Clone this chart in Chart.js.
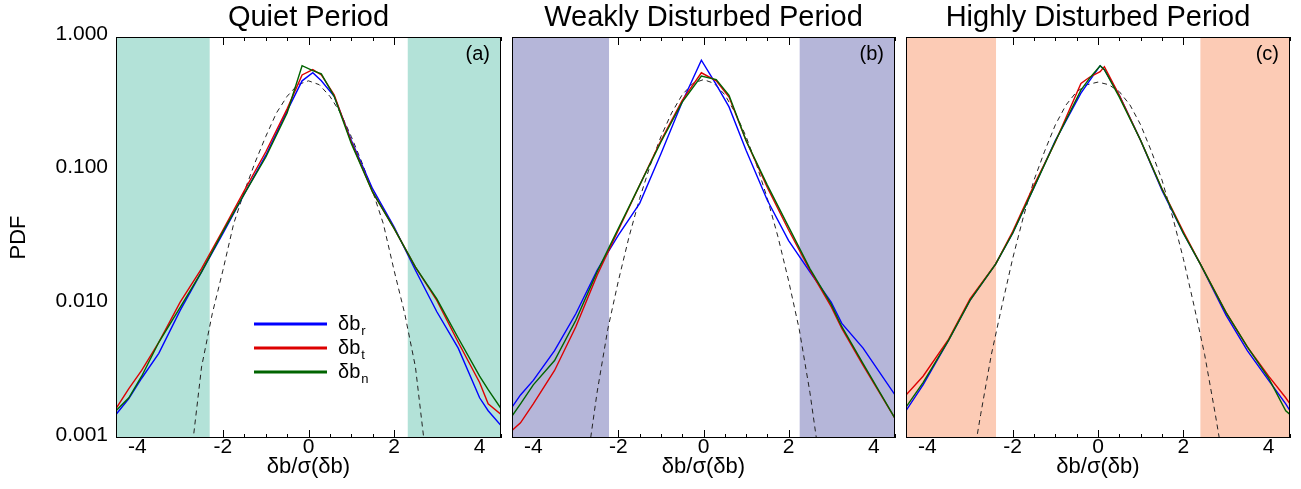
<!DOCTYPE html>
<html>
<head>
<meta charset="utf-8">
<script src="https://cdn.jsdelivr.net/npm/chart.js"></script>
<style>
  body { margin: 0; background: #fff; width: 1301px; height: 489px; overflow: hidden; position: relative; }
  canvas { position: absolute; top: 0; }
</style>
</head>
<body>
<canvas id="quiet" width="510" height="489" style="left:0px"></canvas>
<canvas id="weak" width="395" height="489" style="left:505px"></canvas>
<canvas id="high" width="403" height="489" style="left:898px"></canvas>
<script>
// Axis ticks
const xTickLabels = [-4, -2, 0, 2, 4];
const xTickMarks = [-4.5, -4, -3.5, -3, -2.5, -2, -1.5, -1, -0.5, 0, 0.5, 1, 1.5, 2, 2.5, 3, 3.5, 4, 4.5];
const yTickValues = [0.001, 0.01, 0.1, 1];

// Legend text
const seriesNames = ['δb', 'δb', 'δb'];
const seriesSubs = ['r', 't', 'n'];

// Quiet period (a)
const quietX = [-4.5, -4.2, -3.9, -3.5, -3, -2.5, -2, -1.5, -1, -0.5, -0.15, 0.1, 0.3, 0.6, 1, 1.5, 2, 2.5, 3, 3.5, 4, 4.2, 4.5];
const quietR = [0.0015, 0.00197, 0.0028, 0.0043, 0.009, 0.0175, 0.034, 0.067, 0.13, 0.28, 0.47, 0.54, 0.47, 0.36, 0.169, 0.073, 0.038, 0.018, 0.0088, 0.0047, 0.002, 0.0016, 0.00124];
const quietT = [0.00166, 0.00234, 0.0032, 0.0052, 0.0104, 0.0185, 0.036, 0.071, 0.138, 0.29, 0.52, 0.57, 0.52, 0.37, 0.164, 0.069, 0.037, 0.019, 0.0107, 0.0052, 0.0026, 0.0018, 0.0015];
const quietN = [0.0016, 0.002, 0.0029, 0.0052, 0.0095, 0.0175, 0.035, 0.067, 0.126, 0.27, 0.61, 0.56, 0.53, 0.36, 0.16, 0.069, 0.037, 0.019, 0.011, 0.0056, 0.0029, 0.0023, 0.00166];

// Weakly disturbed period (b)
const weakX = [-4.5, -4.3, -4, -3.5, -3, -2.5, -2, -1.5, -1, -0.5, -0.05, 0.3, 0.6, 1, 1.5, 2, 2.5, 3, 3.25, 3.75, 4.5];
const weakR = [0.0017, 0.0021, 0.0027, 0.0045, 0.0085, 0.018, 0.033, 0.057, 0.134, 0.326, 0.67, 0.44, 0.3, 0.142, 0.06, 0.03, 0.0175, 0.0104, 0.0072, 0.0047, 0.0021];
const weakT = [0.00114, 0.0013, 0.0018, 0.0032, 0.0068, 0.0165, 0.036, 0.078, 0.168, 0.336, 0.54, 0.47, 0.355, 0.168, 0.075, 0.036, 0.018, 0.0096, 0.0066, 0.0035, 0.0014];
const weakN = [0.00146, 0.0018, 0.0025, 0.0038, 0.0076, 0.0175, 0.037, 0.078, 0.164, 0.326, 0.51, 0.48, 0.366, 0.168, 0.078, 0.038, 0.0185, 0.01, 0.0068, 0.0036, 0.0014];

// Highly disturbed period (c)
const highX = [-4.5, -4.1, -3.5, -3, -2.4, -2, -1.5, -1, -0.4, -0.2, 0.05, 0.15, 0.5, 1, 1.5, 2, 2.4, 3, 3.5, 4, 4.4, 4.5];
const highR = [0.0016, 0.0025, 0.0054, 0.0107, 0.02, 0.034, 0.075, 0.168, 0.38, 0.47, 0.61, 0.57, 0.366, 0.168, 0.071, 0.034, 0.02, 0.0083, 0.0045, 0.0027, 0.0018, 0.0016];
const highT = [0.0021, 0.0029, 0.0055, 0.011, 0.02, 0.035, 0.078, 0.164, 0.45, 0.5, 0.55, 0.6, 0.366, 0.168, 0.073, 0.035, 0.02, 0.0087, 0.0048, 0.0029, 0.002, 0.0018];
const highN = [0.0017, 0.0026, 0.0054, 0.0107, 0.02, 0.034, 0.075, 0.166, 0.4, 0.49, 0.61, 0.57, 0.355, 0.168, 0.073, 0.034, 0.02, 0.0087, 0.0048, 0.0028, 0.0016, 0.0015];

// Gaussian reference curves (dashed)
const gaussX = [-3, -2.75, -2.5, -2.25, -2, -1.75, -1.5, -1.25, -1, -0.75, -0.5, -0.25, 0, 0.25, 0.5, 0.75, 1, 1.25, 1.5, 1.75, 2, 2.25, 2.5, 2.75, 3];
const quietGauss = [0.0002, 0.0007, 0.0034, 0.0085, 0.018, 0.04, 0.07, 0.115, 0.18, 0.27, 0.36, 0.44, 0.47, 0.44, 0.36, 0.27, 0.18, 0.115, 0.07, 0.04, 0.018, 0.0085, 0.0034, 0.0007, 0.0002];
const weakGauss = [0.0001, 0.0006, 0.0022, 0.0065, 0.015, 0.032, 0.062, 0.11, 0.18, 0.27, 0.37, 0.45, 0.48, 0.45, 0.37, 0.27, 0.18, 0.11, 0.062, 0.032, 0.015, 0.0065, 0.0022, 0.0006, 0.0001];
const highGauss = [0.0005, 0.0015, 0.0042, 0.0098, 0.022, 0.045, 0.085, 0.14, 0.22, 0.31, 0.39, 0.44, 0.46, 0.44, 0.39, 0.31, 0.22, 0.14, 0.085, 0.045, 0.022, 0.0098, 0.0042, 0.0015, 0.0005];

const seriesColors = ['#0000ff', '#dd0000', '#006400'];
const fontFamily = '"Liberation Sans", Arial, sans-serif';

function toPoints(xs, ys) {
  return xs.map((x, i) => ({ x: x, y: ys[i] }));
}

// Draws inward ticks, shaded tails, box, labels and legend
const panelDecor = {
  id: 'panelDecor',
  beforeDatasetsDraw(chart, args, opts) {
    const { ctx, chartArea: a, scales: { x } } = chart;
    ctx.save();
    ctx.strokeStyle = '#000';
    ctx.lineWidth = 1;
    xTickMarks.forEach(v => {
      const px = Math.round(x.getPixelForValue(v)) + 0.5;
      const len = v % 2 === 0 ? 8 : 4;
      ctx.beginPath();
      ctx.moveTo(px, a.bottom); ctx.lineTo(px, a.bottom - len);
      ctx.moveTo(px, a.top); ctx.lineTo(px, a.top + len);
      ctx.stroke();
    });
    ctx.fillStyle = opts.shade;
    const l = x.getPixelForValue(opts.edges[0]);
    const r = x.getPixelForValue(opts.edges[1]);
    ctx.fillRect(a.left, a.top, l - a.left, a.bottom - a.top);
    ctx.fillRect(r, a.top, a.right - r, a.bottom - a.top);
    ctx.restore();
  },
  afterDatasetsDraw(chart, args, opts) {
    const { ctx, chartArea: a } = chart;
    ctx.save();
    ctx.strokeStyle = '#000';
    ctx.lineWidth = 1;
    ctx.strokeRect(Math.round(a.left) + 0.5, Math.round(a.top) + 0.5, Math.round(a.right - a.left) - 1, Math.round(a.bottom - a.top) - 1);
    ctx.fillStyle = '#000';
    ctx.font = '20px ' + fontFamily;
    ctx.textAlign = 'right';
    ctx.textBaseline = 'middle';
    ctx.fillText(opts.tag, a.right - 11, a.top + 17);

    ctx.textAlign = 'center';
    ctx.font = '29px ' + fontFamily;
    ctx.fillText(opts.title, (a.left + a.right) / 2, 18);
    ctx.font = '22px ' + fontFamily;
    ctx.fillText('δb/σ(δb)', (a.left + a.right) / 2, 467);

    if (opts.yTitle) {
      ctx.save();
      ctx.translate(19, (a.top + a.bottom) / 2);
      ctx.rotate(-Math.PI / 2);
      ctx.font = '22px ' + fontFamily;
      ctx.fillText(opts.yTitle, 0, 0);
      ctx.restore();
    }

    if (opts.legend) {
      seriesNames.forEach((name, i) => {
        const y = 324 + i * 24;
        ctx.strokeStyle = seriesColors[i];
        ctx.lineWidth = 3;
        ctx.beginPath();
        ctx.moveTo(a.left + 138, y);
        ctx.lineTo(a.left + 211, y);
        ctx.stroke();
        ctx.textAlign = 'left';
        ctx.textBaseline = 'alphabetic';
        ctx.font = '20px ' + fontFamily;
        ctx.fillText(name, a.left + 222, y + 6);
        const w = ctx.measureText(name).width;
        ctx.font = '13px ' + fontFamily;
        ctx.fillText(seriesSubs[i], a.left + 223 + w, y + 11);
      });
    }
    ctx.restore();
  }
};

function makePanel(id, cfg) {
  const datasets = [
    { data: toPoints(cfg.xs, cfg.n), borderColor: seriesColors[2] },
    { data: toPoints(cfg.xs, cfg.t), borderColor: seriesColors[1] },
    { data: toPoints(cfg.xs, cfg.r), borderColor: seriesColors[0] },
    { data: toPoints(gaussX, cfg.gauss), borderColor: '#222', borderWidth: 1, borderDash: [5, 4] }
  ].map(d => Object.assign({ borderWidth: 1.4, pointRadius: 0, tension: 0, fill: false }, d));

  return new Chart(document.getElementById(id), {
    type: 'line',
    data: { datasets: datasets },
    plugins: [panelDecor],
    options: {
      responsive: false,
      animation: false,
      layout: { padding: { top: 37, right: cfg.padRight, left: 0, bottom: 0 } },
      plugins: {
        legend: { display: false },
        tooltip: { enabled: false },
        panelDecor: {
          shade: cfg.shade, edges: cfg.edges, tag: cfg.tag, title: cfg.title,
          yTitle: cfg.yTitle, legend: cfg.legend
        }
      },
      scales: {
        x: {
          type: 'linear', min: -4.5, max: 4.5,
          grid: { display: false, drawTicks: false }, border: { display: false },
          afterBuildTicks: s => { s.ticks = xTickLabels.map(v => ({ value: v })); },
          afterFit: s => { s.height = 51; },
          ticks: { color: '#000', padding: -3, maxRotation: 0, font: { family: fontFamily, size: 21 } }
        },
        y: {
          type: 'logarithmic', min: 0.001, max: 1,
          grid: { display: false, drawTicks: false }, border: { display: false },
          afterBuildTicks: s => { s.ticks = yTickValues.map(v => ({ value: v })); },
          afterFit: s => { s.width = cfg.yWidth; },
          ticks: {
            display: cfg.yLabels, color: '#000', padding: 8, labelOffset: -3,
            font: { family: fontFamily, size: 21 },
            callback: v => Number(v).toFixed(3)
          }
        }
      }
    }
  });
}

makePanel('quiet', {
  xs: quietX, r: quietR, t: quietT, n: quietN, gauss: quietGauss,
  shade: '#b3e2d8', edges: [-2.31, 2.32], tag: '(a)', title: 'Quiet Period',
  yTitle: 'PDF', legend: true, yLabels: true, yWidth: 116, padRight: 9
});
makePanel('weak', {
  xs: weakX, r: weakR, t: weakT, n: weakN, gauss: weakGauss,
  shade: '#b5b6d9', edges: [-2.22, 2.26], tag: '(b)', title: 'Weakly Disturbed Period',
  yTitle: null, legend: false, yLabels: false, yWidth: 7, padRight: 5
});
makePanel('high', {
  xs: highX, r: highR, t: highT, n: highN, gauss: highGauss,
  shade: '#fccbb5', edges: [-2.39, 2.4], tag: '(c)', title: 'Highly Disturbed Period',
  yTitle: null, legend: false, yLabels: false, yWidth: 8, padRight: 11
});
</script>
</body>
</html>
